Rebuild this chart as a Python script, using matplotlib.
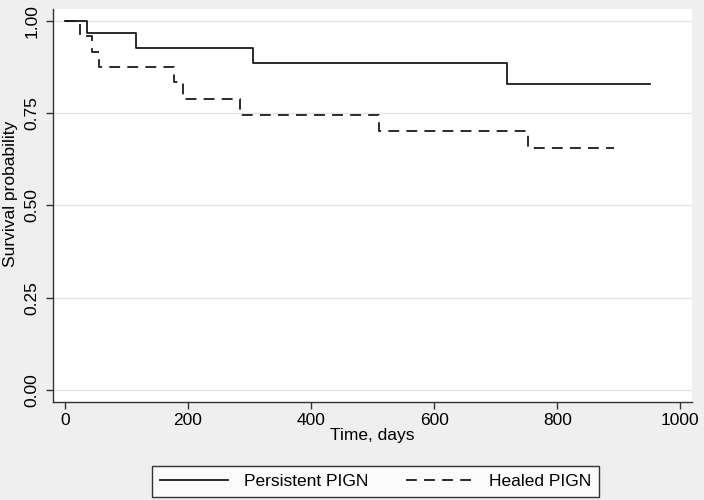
import numpy as np
import matplotlib.pyplot as plt

plt.rcParams['font.family'] = ['Liberation Sans', 'DejaVu Sans']

# Kaplan-Meier step values
persist_days = [0, 36, 115, 305, 718, 950]
persist_surv = [1.0, 0.966, 0.927, 0.886, 0.830, 0.830]

healed_days = [0, 24, 44, 56, 177, 191, 284, 510, 753, 893]
healed_surv = [1.0, 0.959, 0.916, 0.876, 0.833, 0.788, 0.745, 0.701, 0.656, 0.656]

x_ticks = [0, 200, 400, 600, 800, 1000]
y_ticks = [0.0, 0.25, 0.5, 0.75, 1.0]

bg = '#efefef'

fig = plt.figure(figsize=(7.04, 5.0), dpi=100, facecolor=bg)
ax = fig.add_axes([0.0757, 0.1966, 0.9068, 0.7854])
ax.set_facecolor('white')

ax.step(persist_days, persist_surv, where='post', color='#1a1a1a', lw=1.3,
        label='Persistent PIGN')
ax.step(healed_days, healed_surv, where='post', color='#1a1a1a', lw=1.3,
        linestyle=(0, (6, 4)), label='Healed PIGN')

ax.set_xlim(-19, 1018.5)
ax.set_ylim(-0.032, 1.032)
ax.set_xticks(x_ticks)
ax.set_yticks(y_ticks)
ax.set_yticklabels([f'{v:.2f}' for v in y_ticks], rotation=90, va='center')
ax.grid(axis='y', color='#e4e4e4', lw=1)
ax.set_axisbelow(True)

for s in ['top', 'right']:
    ax.spines[s].set_visible(False)
for s in ['left', 'bottom']:
    ax.spines[s].set_color('#333333')
    ax.spines[s].set_linewidth(1)
ax.tick_params(direction='out', length=5, width=1, color='#333333',
               labelsize=12.5, pad=3)
ax.tick_params(axis='y', pad=5)

ax.set_xlabel('Time, days', fontsize=12.5, labelpad=0)
ax.set_ylabel('Survival probability', fontsize=12.5, va='center')
ax.yaxis.set_label_coords(-0.067, 0.53)

leg = fig.legend(loc='center', bbox_to_anchor=(0.534, 0.037), ncol=2,
                 fontsize=12.5, frameon=True, fancybox=False, edgecolor='black',
                 handlelength=3.9, handletextpad=0.9, columnspacing=2.2,
                 borderpad=0.45)
leg.get_frame().set_linewidth(1)

fig.savefig('out.png', dpi=100, facecolor=bg)
